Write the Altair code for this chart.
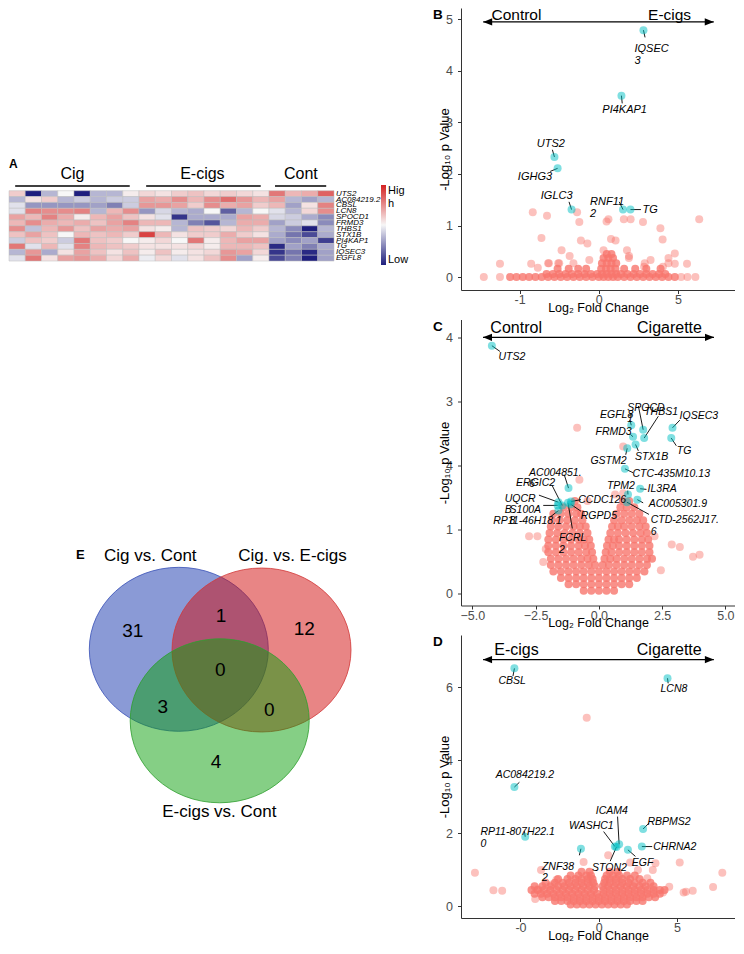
import altair as alt
import pandas as pd

FONT = "Liberation Sans"
NOVIEW = alt.ViewBackground(stroke="transparent", strokeWidth=0)
VW = 274  # volcano plot width

# ---------------- Panel A : heatmap ----------------
genes = ["UTS2", "AC084219.2", "CBSL", "LCN8", "SPOCD1", "FRMD3", "THBS1",
         "STX1B", "PI4KAP1", "TG", "IQSEC3", "EGFL8"]
cig_vals = [
    [0.2, -1.0, -0.3, 0.0, -1.0, -0.3, -0.3, 0.05],
    [-0.3, 0.1, 0.2, -0.3, -0.2, -0.3, -0.2, -0.2],
    [-0.1, -0.45, -0.45, -0.45, -0.45, -0.4, -0.55, -0.2],
    [-0.1, 0.55, 0.5, 0.5, 0.55, -0.3, 0.3, 0.5],
    [0.4, 0.3, 0.55, 0.35, 0.05, 0.3, 0.4, 0.25],
    [0.3, 0.5, 0.35, 0.3, 0.35, 0.25, 0.4, 0.55],
    [0.5, -0.25, 0.3, 0.45, 0.25, 0.4, 0.35, 0.4],
    [0.25, 0.4, 0.25, 0.0, 0.3, 0.25, 0.3, 0.2],
    [-0.2, 0.25, 0.2, -0.2, 0.6, 0.25, 0.2, 0.0],
    [0.6, -0.1, 0.3, -0.1, 0.55, 0.3, 0.25, 0.2],
    [-0.3, 0.45, -0.35, 0.1, 0.4, 0.25, 0.1, 0.25],
    [-0.1, 0.6, 0.1, 0.4, 0.45, 0.35, 0.15, 0.35],
]
ecig_vals = [
    [0.15, 0.1, 0.2, 0.25, 0.15, 0.2, 0.15, 0.1],
    [0.4, 0.35, 0.5, 0.3, 0.5, 0.65, 0.45, 0.3],
    [0.45, 0.45, 0.4, 0.2, 0.5, 0.35, 0.4, 0.2],
    [-0.45, -0.15, -0.3, -0.35, 0.0, -0.7, -0.3, 0.0],
    [0.1, -0.1, -0.9, -0.35, -0.35, -0.35, 0.4, 0.35],
    [0.3, 0.3, -0.3, -0.55, -0.75, -0.3, 0.35, 0.35],
    [0.1, 0.05, -0.3, 0.25, 0.2, 0.15, 0.3, 0.2],
    [0.85, 0.3, 0.1, 0.2, 0.2, 0.35, 0.2, 0.1],
    [0.05, 0.15, 0.0, 0.6, 0.05, 0.3, 0.4, 0.4],
    [0.1, 0.1, 0.1, 0.15, 0.05, 0.3, 0.3, 0.25],
    [0.05, 0.25, 0.05, 0.1, 0.15, 0.45, 0.4, 0.15],
    [-0.05, 0.15, -0.1, 0.1, 0.25, 0.5, -0.4, 0.05],
]
cont_vals = [
    [0.6, 0.3, 0.35, 0.7],
    [0.4, -0.3, -0.4, -0.3],
    [0.3, -0.4, 0.1, 0.55],
    [-0.1, -0.3, 0.15, 0.5],
    [-0.15, -0.2, -0.35, -0.5],
    [-0.4, -0.2, -0.1, -0.5],
    [-0.3, -0.5, -1.0, -0.3],
    [-0.35, -0.6, -0.8, -0.35],
    [-0.4, -0.5, -0.4, -0.85],
    [-0.95, -0.4, -0.55, -0.35],
    [-0.9, -0.6, -0.95, -0.4],
    [-0.8, -0.55, -1.0, -0.4],
]
groups = ["Cig", "E-cigs", "Cont"]
group_center = [3.9, 11.9, 17.96]
group_line_start = [0.38, 8.44, 16.37]
group_line_end = [7.43, 15.49, 19.52]

heat_rows = []
for r, g in enumerate(genes):
    vals = cig_vals[r] + ecig_vals[r] + cont_vals[r]
    for c, v in enumerate(vals):
        heat_rows.append({"x": c, "x2": c + 1, "y": r, "y2": r + 1, "v": v})
heat_df = pd.DataFrame(heat_rows)
gene_df = pd.DataFrame({"x": [20.12] * len(genes), "y": [r + 0.5 for r in range(len(genes))], "t": genes})
grp_text_df = pd.DataFrame({"x": group_center, "y": [-2.85] * 3, "t": groups})
grp_line_df = pd.DataFrame({"x": group_line_start, "x2": group_line_end, "y": [-0.8] * 3})
a_lab_df = pd.DataFrame({"x": [0.0], "y": [-4.56], "t": ["A"]})

LEFT_H = 812
hx = alt.Scale(domain=[0, 24.615], nice=False, zero=False)
hy = alt.Scale(domain=[-31.18, -31.18 + LEFT_H / 5.86], nice=False, zero=False, reverse=True)
cscale = alt.Scale(domain=[-1, 0, 1], range=["#1f1f7e", "#f7f7f7", "#d42222"], interpolate="rgb")

heat = alt.Chart(heat_df).mark_rect(stroke="#bdbdbd", strokeWidth=0.5).encode(
    x=alt.X("x:Q", scale=hx, axis=None), x2="x2:Q",
    y=alt.Y("y:Q", scale=hy, axis=None), y2="y2:Q",
    color=alt.Color("v:Q", scale=cscale, legend=alt.Legend(
        orient="none", legendX=372, legendY=177, direction="vertical", title=None,
        gradientLength=80, gradientThickness=5, gradientStrokeWidth=0, padding=0,
        values=[-1, 1], labelExpr="datum.value > 0 ? ['Hig', 'h'] : 'Low'",
        labelFontSize=11, labelFont=FONT, labelColor="black", labelOffset=2)))
gene_txt = alt.Chart(gene_df).mark_text(align="left", baseline="middle", fontSize=8,
                                         fontStyle="italic", font=FONT, color="black").encode(
    x=alt.X("x:Q", scale=hx, axis=None), y=alt.Y("y:Q", scale=hy, axis=None), text="t:N")
grp_txt = alt.Chart(grp_text_df).mark_text(align="center", baseline="middle", fontSize=16,
                                            font=FONT, color="black").encode(
    x=alt.X("x:Q", scale=hx, axis=None), y=alt.Y("y:Q", scale=hy, axis=None), text="t:N")
grp_line = alt.Chart(grp_line_df).mark_rule(color="black", strokeWidth=1.5).encode(
    x=alt.X("x:Q", scale=hx, axis=None), x2="x2:Q", y=alt.Y("y:Q", scale=hy, axis=None))
a_lab = alt.Chart(a_lab_df).mark_text(align="left", baseline="middle", fontSize=12,
                                       fontWeight="bold", font=FONT, color="black").encode(
    x=alt.X("x:Q", scale=hx, axis=None), y=alt.Y("y:Q", scale=hy, axis=None), text="t:N")
panel_a = alt.layer(heat, gene_txt, grp_txt, grp_line, a_lab)

# ---------------- Panel E : Venn ----------------
venn_x = [169.8, 252.5, 210.7]
venn_y = [109.3, 110.0, 180.8]
venn_fill = ["#1535ad", "#d10b0b", "#0b9f0b"]
venn_stroke = ["#3b52b8", "#d23a3a", "#2f9f2f"]
venn_num = ["31", "1", "12", "0", "3", "0", "4"]
venn_num_x = [123.7, 212.0, 295.3, 211.3, 153.7, 260.3, 207.0]
venn_num_y = [90.7, 76.0, 89.3, 130.0, 166.7, 170.0, 221.7]
venn_titles = ["Cig vs. Cont", "Cig. vs. E-cigs", "E-cigs vs. Cont"]
venn_title_x = [141.3, 283.5, 210.3]
venn_title_y = [16.0, 16.0, 271.7]

ELLIPSE = "M-1,0A1,0.916,0,1,0,1,0A1,0.916,0,1,0,-1,0Z"
vx = alt.Scale(domain=[0, 400], nice=False, zero=False)
vy = alt.Scale(domain=[-532, LEFT_H - 532], nice=False, zero=False, reverse=True)
circ_df = pd.DataFrame({"x": venn_x, "y": venn_y, "f": venn_fill, "s": venn_stroke})
circles = alt.Chart(circ_df).mark_point(shape=ELLIPSE, size=32041, filled=True, fillOpacity=0.5,
                                         strokeOpacity=0.8, strokeWidth=1, opacity=1).encode(
    x=alt.X("x:Q", scale=vx, axis=None), y=alt.Y("y:Q", scale=vy, axis=None),
    fill=alt.Fill("f:N", scale=None), stroke=alt.Stroke("s:N", scale=None))
nums = alt.Chart(pd.DataFrame({"x": venn_num_x, "y": venn_num_y, "t": venn_num})).mark_text(
    fontSize=19, font=FONT, color="black", align="center", baseline="middle").encode(
    x=alt.X("x:Q", scale=vx, axis=None), y=alt.Y("y:Q", scale=vy, axis=None), text="t:N")
vtitles = alt.Chart(pd.DataFrame({"x": venn_title_x, "y": venn_title_y, "t": venn_titles})).mark_text(
    fontSize=17, font=FONT, color="black", align="center", baseline="middle").encode(
    x=alt.X("x:Q", scale=vx, axis=None), y=alt.Y("y:Q", scale=vy, axis=None), text="t:N")
e_lab = alt.Chart(pd.DataFrame({"x": [67.0], "y": [15.0], "t": ["E"]})).mark_text(
    fontSize=13, fontWeight="bold", font=FONT, color="black", align="left", baseline="middle").encode(
    x=alt.X("x:Q", scale=vx, axis=None), y=alt.Y("y:Q", scale=vy, axis=None), text="t:N")
panel_e = alt.layer(circles, nums, vtitles, e_lab)

left = alt.layer(panel_a, panel_e).resolve_scale(x="independent", y="independent").properties(
    width=400, height=LEFT_H, view=NOVIEW)

# ---------------- Volcano data ----------------
# Panel B (Control vs E-cigs)
B_rows = [
    (0.0, [-5.6, -5.2, -4.8, -4.4, -4.0, -3.6, -3.2, -2.8, -2.4, -2.0, -1.6, -1.2, -0.8,
           -0.4, 0.0, 0.3, 0.6, 0.9, 1.2, 1.6, 2.0, 2.4, 2.8, 3.2, 3.6, 4.0, 4.4, 4.8]),
    (0.06, [-3.3, -2.9, -2.5, -2.1, -1.7, -1.3, -0.9, -0.5, -0.1, 0.2, 0.5, 0.8, 1.1, 1.4, 1.8, 2.2,
            2.6, 3.0, 3.4, 3.8, 4.2]),
    (0.16, [-2.6, -1.9, -1.3, -0.8, 0.15, 0.45, 0.75, 1.05, 1.6, 2.3, 3.0, 3.9]),
    (0.27, [0.2, 0.5, 0.8, 1.1]),
    (0.37, [0.3, 0.6, 0.9]),
    (0.45, [0.5, 0.8]),
]
B_sc_x = [-7.26, -6.24, 5.2, 5.6, 6.1, -4.17, -3.27, -1.37, -1.23, 0.49, 0.61, 1.58, 2.01, 2.79, 6.34,
          3.89, 4.03, -3.62, -1.13, -0.72, 0.77, 1.06, 0.3, -2.35, 1.78, 4.8, -1.84, 1.91, -6.24,
          -4.27, -3.15, -2.56, -0.6, 3.27, 4.4, -3.85, 2.86, 4.05, 4.8, 5.57, -3.2, -2.5, -1.6,
          2.9, 4.4, 1.9]
B_sc_y = [0.0, 0.0, 0.0, 0.0, 0.0, 1.26, 1.19, 1.26, 1.07, 1.08, 1.12, 1.12, 1.12, 1.07, 1.12,
          0.95, 0.73, 0.76, 0.71, 0.65, 0.74, 0.71, 0.52, 0.52, 0.52, 0.46, 0.41, 0.41, 0.26,
          0.26, 0.27, 0.27, 0.33, 0.33, 0.37, 0.18, 0.2, 0.2, 0.26, 0.26, 0.27, 0.27, 0.27,
          0.27, 0.27, 0.37]
B_hi_x = [2.82, 1.43, -2.8, -2.6, -1.72, 1.53, 2.0]
B_hi_y = [4.79, 3.52, 2.33, 2.11, 1.31, 1.31, 1.31]
B_lab_t = ["IQSEC\n3", "PI4KAP1", "UTS2", "IGHG3", "IGLC3", "RNF11\n2", "TG"]
B_lab_x = [2.25, 1.63, -3.03, -4.03, -2.66, -0.55, 2.76]
B_lab_y = [4.43, 3.24, 2.58, 1.95, 1.57, 1.45, 1.30]
B_lab_al = ["left", "center", "center", "center", "center", "left", "left"]
B_seg_x2 = [2.92, 1.48, -2.93, -3.07, -1.88, 1.29, 2.66]
B_seg_y2 = [4.65, 3.37, 2.47, 2.05, 1.46, 1.46, 1.31]

# Panel C (Control vs Cigarette)
C_rows = [
    (0.05, [-0.6, -0.3, 0.0, 0.3, 0.6]),
    (0.15, [-1.2, -0.9, -0.6, -0.3, 0.0, 0.3, 0.6, 0.9, 1.2]),
    (0.25, [-1.5, -1.2, -0.9, -0.6, -0.3, 0.0, 0.3, 0.6, 0.9, 1.2, 1.5]),
    (0.35, [-1.8, -1.5, -1.2, -0.9, -0.6, -0.3, 0.0, 0.3, 0.6, 0.9, 1.2, 1.5, 1.8]),
    (0.45, [-1.9, -1.6, -1.3, -1.0, -0.7, -0.4, -0.15, 0.15, 0.4, 0.7, 1.0, 1.3, 1.6, 1.9]),
    (0.55, [-1.9, -1.6, -1.3, -1.0, -0.7, -0.45, -0.22, 0.22, 0.45, 0.7, 1.0, 1.3, 1.6, 1.9, 2.1]),
    (0.65, [-2.0, -1.7, -1.4, -1.1, -0.8, -0.5, -0.27, 0.27, 0.5, 0.8, 1.1, 1.4, 1.7, 2.0]),
    (0.75, [-2.0, -1.7, -1.4, -1.1, -0.8, -0.55, -0.32, 0.32, 0.55, 0.8, 1.1, 1.4, 1.7, 2.0]),
    (0.85, [-2.0, -1.7, -1.4, -1.1, -0.8, -0.6, -0.38, 0.38, 0.6, 0.8, 1.1, 1.4, 1.7, 1.95]),
    (0.95, [-1.95, -1.65, -1.35, -1.05, -0.75, -0.45, 0.45, 0.75, 1.05, 1.35, 1.65, 1.9]),
    (1.05, [-1.9, -1.6, -1.3, -1.0, -0.75, -0.52, 0.52, 0.75, 1.0, 1.3, 1.6, 1.85]),
    (1.15, [-1.85, -1.55, -1.25, -0.95, -0.65, 0.6, 0.9, 1.2, 1.5, 1.75]),
    (1.25, [-1.8, -1.5, -1.2, -0.9, -0.7, 0.7, 1.0, 1.3, 1.6]),
    (1.35, [-1.4, -1.1, -0.85, 0.85, 1.1, 1.4]),
    (1.45, [-0.95, 0.95, 1.2]),
]
C_sc_x = [-0.86, 0.96, -0.77, -2.76, -2.43, 2.88, 3.2, 3.72, 3.98, 2.45, 0.96, 0.64, -2.1, -2.2, 2.2, -0.45]
C_sc_y = [2.59, 2.30, 1.78, 0.9, 0.9, 0.77, 0.73, 0.58, 0.61, 0.37, 1.57, 1.55, 0.7, 0.5, 0.9, 1.45]
C_hi_x = [-4.23, 1.75, 1.28, 1.79, 2.91, 1.35, 2.86, 1.45, 1.12, 1.03, -1.2, 1.63, 1.15, 1.52, 1.11,
          -1.1, -1.12, -1.45, -1.6, -1.63, -1.6, -1.22]
C_hi_y = [3.87, 2.56, 2.63, 2.43, 2.59, 2.45, 2.43, 2.33, 2.27, 1.95, 1.65, 1.64, 1.55, 1.47, 1.43,
          1.44, 1.40, 1.38, 1.43, 1.38, 1.30, 1.42]
C_lab_t = ["UTS2", "SPOCD\n1", "EGFL8", "THBS1", "IQSEC3", "FRMD3", "TG", "STX1B", "GSTM2",
           "CTC-435M10.13", "AC004851.\n6", "IL3RA", "TPM2", "AC005301.9", "CTD-2562J17.\n6",
           "CCDC126", "RGPD5", "ERGIC2", "UQCR\nB", "S100A\n8", "RP11-46H18.1", "FCRL\n2"]
C_lab_x = [-3.44, 1.12, 0.70, 2.46, 3.95, 0.58, 3.37, 2.08, 0.38, 2.86, -2.76, 2.5, 0.87, 3.12, 2.05,
           0.13, 0.0, -2.5, -3.72, -3.53, -2.82, -1.58]
C_lab_y = [3.69, 2.905, 2.79, 2.83, 2.77, 2.53, 2.23, 2.13, 2.08, 1.87, 1.89, 1.63, 1.69, 1.40, 1.15,
           1.47, 1.21, 1.73, 1.485, 1.315, 1.14, 0.865]
C_lab_al = ["center", "left", "center", "center", "center", "center", "center", "center", "center",
            "center", "left", "center", "center", "center", "left", "center", "center", "center",
            "left", "left", "center", "left"]
C_seg_x2 = [-3.91, 1.56, 1.22, 2.35, 3.2, 1.24, 3.06, 1.56, 1.06, 1.35, -1.37, 1.88, 1.14, 1.75, 1.98,
            -0.71, -0.71, -1.86, -2.37, -2.2, -1.92, -1.05]
C_seg_y2 = [3.78, 2.93, 2.71, 2.77, 2.71, 2.49, 2.31, 2.23, 2.17, 1.89, 1.86, 1.63, 1.61, 1.42, 1.24,
            1.47, 1.29, 1.70, 1.54, 1.38, 1.20, 1.02]

# Panel D (E-cigs vs Cigarette)
D_rows = [
    (0.05, [-1.8, -1.4, -1.0, -0.6, -0.2, 0.2, 0.6, 1.0, 1.4, 1.8]),
    (0.15, [-2.8, -2.4, -2.0, -1.6, -1.2, -0.8, -0.4, 0.0, 0.4, 0.8, 1.2, 1.6, 2.0, 2.4, 2.8]),
    (0.25, [-3.6, -3.2, -2.8, -2.4, -2.0, -1.6, -1.2, -0.8, -0.4, 0.0, 0.4, 0.8, 1.2, 1.6, 2.0, 2.4,
            2.8, 3.2, 3.6]),
    (0.35, [-4.1, -3.7, -3.3, -2.9, -2.5, -2.1, -1.7, -1.3, -0.9, -0.5, -0.1, 0.3, 0.7, 1.1, 1.5, 1.9,
            2.3, 2.7, 3.1, 3.5, 3.9]),
    (0.45, [-4.3, -3.9, -3.5, -3.1, -2.7, -2.3, -1.9, -1.5, -1.1, -0.7, -0.3, 0.3, 0.7, 1.1, 1.5, 1.9,
            2.3, 2.7, 3.1, 3.5, 3.9, 4.2]),
    (0.55, [-4.1, -3.6, -3.1, -2.6, -2.2, -1.8, -1.4, -1.0, -0.6, -0.25, 0.25, 0.6, 1.0, 1.4, 1.8, 2.2,
            2.6, 3.0, 3.5]),
    (0.65, [-3.4, -2.8, -2.3, -1.9, -1.5, -1.1, -0.7, -0.35, 0.35, 0.7, 1.1, 1.5, 1.9, 2.3, 2.8, 3.3]),
    (0.75, [-2.6, -2.0, -1.5, -1.1, -0.7, -0.4, 0.4, 0.7, 1.1, 1.5, 2.0, 2.6]),
    (0.85, [-1.8, -1.3, -0.8, -0.5, 0.5, 0.9, 1.3, 1.8, 2.3]),
    (0.95, [-1.1, -0.6, 0.7, 1.2]),
]
D_sc_x = [-0.77, -7.91, -6.73, -6.17, -3.69, -0.97, 0.6, 5.17, 3.62, 7.89, 7.3, 6.0, 5.57, 5.42, 3.45,
          3.1, 4.5, 4.1, -2.7, -3.9, -4.06, -3.0, 2.0, 2.5]
D_sc_y = [5.17, 0.92, 0.44, 0.43, 1.0, 1.22, 1.4, 1.2, 1.18, 0.92, 0.53, 0.43, 0.4, 0.38, 1.0, 0.77,
          0.54, 0.38, 0.73, 0.47, 0.2, 0.6, 1.2, 1.0]
D_hi_x = [-5.39, 4.39, -5.39, -4.7, -1.14, 1.03, 1.3, 1.13, 1.86, 2.75, 2.83]
D_hi_y = [6.52, 6.25, 3.27, 1.91, 1.58, 1.64, 1.70, 1.63, 1.55, 1.64, 2.12]
D_lab_t = ["CBSL", "LCN8", "AC084219.2", "RP11-807H22.1\n0", "ZNF38\n2", "WASHC1", "ICAM4", "STON2",
           "EGF", "CHRNA2", "RBPMS2"]
D_lab_x = [-5.53, 4.8, -4.72, -7.56, -3.63, -0.48, 0.83, 0.68, 2.8, 4.86, 4.49]
D_lab_y = [6.18, 5.95, 3.59, 2.035, 1.085, 2.21, 2.61, 1.04, 1.19, 1.63, 2.32]
D_lab_al = ["center", "center", "center", "left", "left", "center", "center", "center", "center",
            "center", "center"]
D_seg_x2 = [-5.48, 4.43, -5.07, -4.75, -1.24, 0.31, 1.2, 0.73, 2.34, 3.41, 3.2]
D_seg_y2 = [6.31, 6.11, 3.4, 2.06, 1.40, 2.05, 2.46, 1.24, 1.37, 1.64, 2.28]

HEAD_L = "M0,0L2,-0.8L2,0.8Z"
HEAD_R = "M0,0L-2,-0.8L-2,0.8Z"


def volcano(p):
    xs = alt.Scale(domain=p["xdom"], nice=False, zero=False)
    ys = alt.Scale(domain=p["ydom"], nice=False, zero=False)
    xa = alt.Axis(values=p["xticks"], labelExpr=p["xexpr"], title="Log₂ Fold Change", grid=False,
                  tickSize=3.5, labelPadding=0, labelFlush=False, labelFontSize=12.5,
                  labelColor="#4d4d4d", labelFont=FONT, titleFont=FONT, titleFontSize=12.5,
                  titleFontWeight="normal", titleColor="black", titleY=11, titleBaseline="top",
                  domainColor="#333333", tickColor="#333333")
    ya = alt.Axis(values=p["yticks"], labelExpr=p["yexpr"], title="-Log₁₀ p Value", grid=False,
                  tickSize=3.5, labelPadding=5, labelFlush=False, labelFontSize=12.5,
                  labelColor="#4d4d4d", labelFont=FONT, titleFont=FONT, titleFontSize=13,
                  titleFontWeight="normal", titleColor="black", titleX=-17, titleY=p["h"] / 2,
                  titleBaseline="middle", titleAngle=270, domainColor="#333333", tickColor="#333333")

    def X(f="x:Q"):
        return alt.X(f, scale=xs, axis=xa)

    def Y(f="y:Q"):
        return alt.Y(f, scale=ys, axis=ya)

    dx, dy = [], []
    for yv, xl in p["rows"]:
        for xv in xl:
            dx.append(xv)
            dy.append(yv)
    dense = alt.Chart(pd.DataFrame({"x": dx, "y": dy})).mark_circle(
        size=64, color="#F8766D", opacity=0.8).encode(x=X(), y=Y())
    sparse = alt.Chart(pd.DataFrame({"x": p["scx"], "y": p["scy"]})).mark_circle(
        size=64, color="#F8766D", opacity=0.45).encode(x=X(), y=Y())
    seg = alt.Chart(pd.DataFrame({"x": p["hix"], "y": p["hiy"],
                                  "x2": p["segx2"], "y2": p["segy2"]})).mark_rule(
        color="black", strokeWidth=0.9).encode(x=X(), y=Y(), x2="x2:Q", y2="y2:Q")
    hi = alt.Chart(pd.DataFrame({"x": p["hix"], "y": p["hiy"]})).mark_circle(
        size=64, color="#00BFC4", opacity=0.5).encode(x=X(), y=Y())
    lab_df = pd.DataFrame({"x": p["labx"], "y": p["laby"], "t": p["labt"], "al": p["labal"]})
    layers = [dense, sparse, seg, hi]
    for al in ["center", "left"]:
        layers.append(alt.Chart(lab_df).transform_filter(f"datum.al == '{al}'").mark_text(
            align=al, baseline="middle", fontStyle="italic", fontSize=p["fs"], font=FONT,
            color="black", lineBreak="\n", lineHeight=p["fs"] + 1).encode(x=X(), y=Y(), text="t:N"))
    layers.append(alt.Chart(pd.DataFrame({"x": [p["axl"]], "x2": [p["axr"]], "y": [p["ay"]]})).mark_rule(
        color="black", strokeWidth=1.3).encode(x=X(), x2="x2:Q", y=Y()))
    layers.append(alt.Chart(pd.DataFrame({"x": [p["axl"]], "y": [p["ay"]]})).mark_point(
        shape=HEAD_L, size=81, filled=True, color="black", opacity=1).encode(x=X(), y=Y()))
    layers.append(alt.Chart(pd.DataFrame({"x": [p["axr"]], "y": [p["ay"]]})).mark_point(
        shape=HEAD_R, size=81, filled=True, color="black", opacity=1).encode(x=X(), y=Y()))
    layers.append(alt.Chart(pd.DataFrame({"x": p["atx"], "y": [p["aty"]] * 2, "t": p["att"]})).mark_text(
        align="center", baseline="top", fontSize=p["afs"], font=FONT, color="black").encode(
        x=X(), y=Y(), text="t:N"))
    letx = p["xdom"][0] - 28.0 * (p["xdom"][1] - p["xdom"][0]) / VW
    layers.append(alt.Chart(pd.DataFrame({"x": [letx], "y": [p["ydom"][1]], "t": [p["let"]]})).mark_text(
        align="left", baseline="top", fontSize=13.5, fontWeight="bold", font=FONT, color="black").encode(
        x=X(), y=Y(), text="t:N"))
    return alt.layer(*layers).properties(width=VW, height=p["h"], view=NOVIEW)


panel_b = volcano(dict(
    rows=B_rows, scx=B_sc_x, scy=B_sc_y, hix=B_hi_x, hiy=B_hi_y,
    segx2=B_seg_x2, segy2=B_seg_y2, labt=B_lab_t, labx=B_lab_x, laby=B_lab_y, labal=B_lab_al, fs=11,
    xdom=[-8.7, 8.6], ydom=[-0.25, 5.22], h=282, xticks=[-5, 0, 5],
    xexpr="datum.value == -5 ? '-1' : datum.label", yticks=[0, 1, 2, 3, 4, 5], yexpr="datum.label",
    axl=-7.3, axr=7.26, ay=4.95, atx=[-5.2, 4.47], aty=5.22, att=["Control", "E-cigs"], afs=15.5,
    let="B"))
panel_c = volcano(dict(
    rows=C_rows, scx=C_sc_x, scy=C_sc_y, hix=C_hi_x, hiy=C_hi_y,
    segx2=C_seg_x2, segy2=C_seg_y2, labt=C_lab_t, labx=C_lab_x, laby=C_lab_y, labal=C_lab_al, fs=10.5,
    xdom=[-5.45, 5.38], ydom=[-0.18, 4.278], h=286, xticks=[-5, -2.5, 0, 2.5, 5],
    xexpr="format(datum.value, '.1f')", yticks=[0, 1, 2, 3, 4],
    yexpr="datum.value == 2 ? '4' : datum.label",
    axl=-4.58, axr=4.55, ay=4.0, atx=[-3.27, 2.79], aty=4.278, att=["Control", "Cigarette"], afs=16,
    let="C"))
panel_d = volcano(dict(
    rows=D_rows, scx=D_sc_x, scy=D_sc_y, hix=D_hi_x, hiy=D_hi_y,
    segx2=D_seg_x2, segy2=D_seg_y2, labt=D_lab_t, labx=D_lab_x, laby=D_lab_y, labal=D_lab_al, fs=10.5,
    xdom=[-8.8, 8.7], ydom=[-0.317, 7.434], h=283, xticks=[-5, 0, 5],
    xexpr="datum.value == -5 ? '-0' : datum.label", yticks=[0, 2, 4, 6], yexpr="datum.label",
    axl=-7.39, axr=7.35, ay=6.76, atx=[-5.26, 4.5], aty=7.23, att=["E-cigs", "Cigarette"], afs=16,
    let="D"))

right = alt.vconcat(panel_b, panel_c, panel_d, spacing=29.5, bounds="flush")
chart = alt.hconcat(left, right, spacing=52, bounds="flush").properties(padding=0).configure_view(
    stroke="transparent", strokeWidth=0).configure(font=FONT)

chart.save("out.html", embed_options={"renderer": "svg", "actions": False})
